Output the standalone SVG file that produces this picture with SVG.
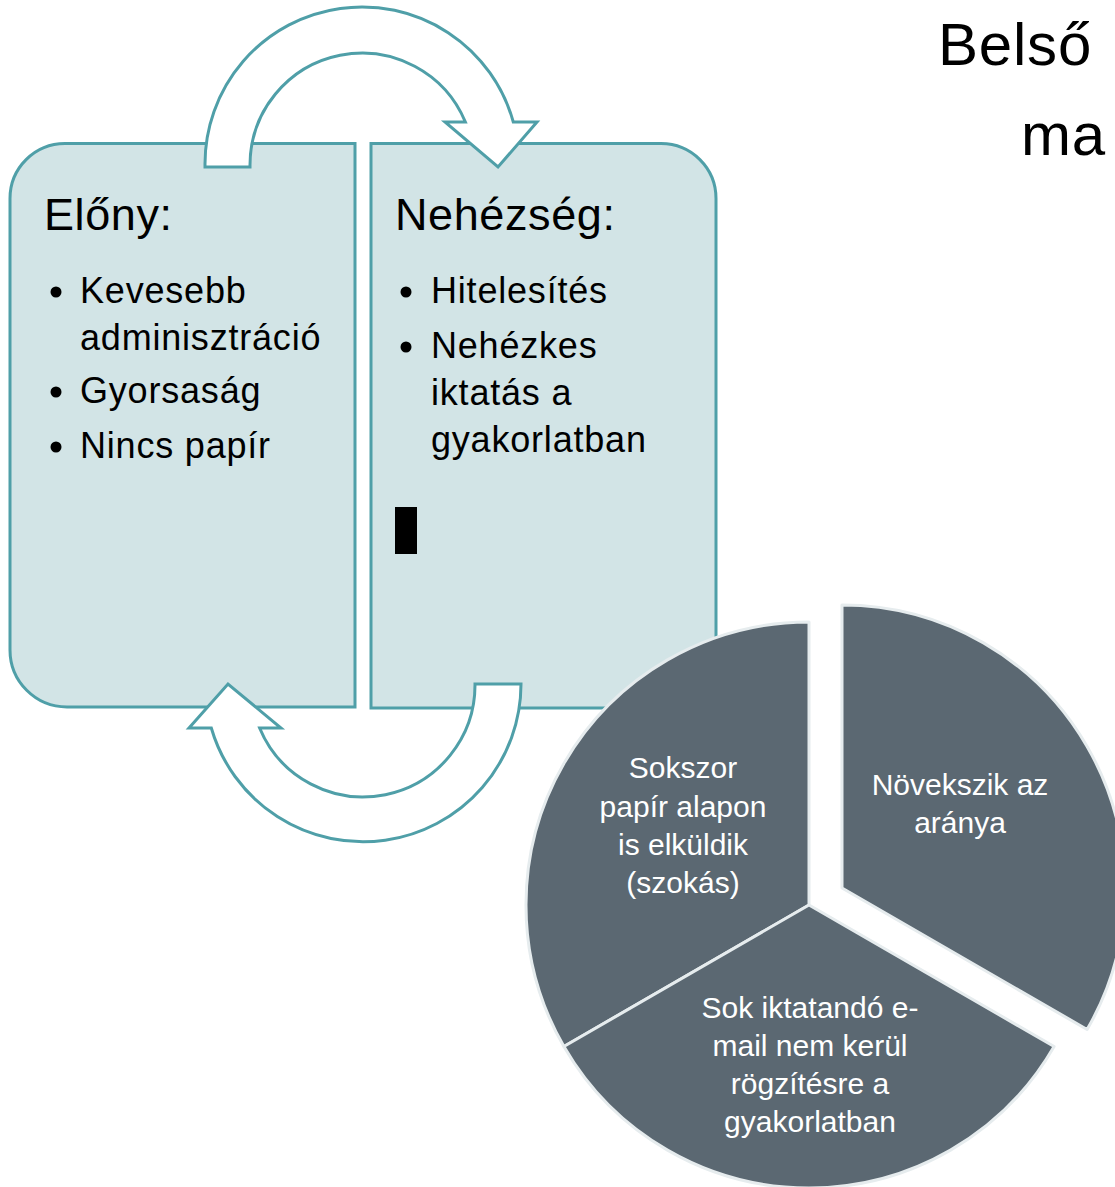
<svg xmlns="http://www.w3.org/2000/svg" width="1115" height="1187" viewBox="0 0 1115 1187">
  <style>
    .box { fill: #d2e4e6; stroke: #4f9fa8; stroke-width: 3; }
    .arrow { fill: #ffffff; stroke: #4f9fa8; stroke-width: 3; stroke-linejoin: miter; }
    .head { font-family: "Liberation Sans", Arial, sans-serif; font-size: 45px; letter-spacing: 0.6px; fill: #000000; }
    .item { font-family: "Liberation Sans", Arial, sans-serif; font-size: 36px; letter-spacing: 0.8px; fill: #000000; }
    .title { font-family: "Liberation Sans", Arial, sans-serif; font-size: 60px; letter-spacing: 0.8px; fill: #000000; }
    .slice { fill: #5b6872; stroke: #e6ecee; stroke-width: 3; stroke-linejoin: round; }
    .pie { font-family: "Liberation Sans", Arial, sans-serif; font-size: 30px; fill: #ffffff; text-anchor: middle; }
    .dot { fill: #000000; }
  </style>
  <rect x="0" y="0" width="1115" height="1187" fill="#ffffff"/>

  <g id="title">
    <text class="title" x="938" y="65">Belső</text>
    <text class="title" x="1021" y="155">ma</text>
  </g>

  <g id="node-elony">
    <path class="box" d="M65,143.5 L355,143.5 L355,707 L67,707 A57,57 0 0 1 10,650 L10,198.5 A55,55 0 0 1 65,143.5 Z"/>
    <text class="head" x="44" y="230">Előny:</text>
    <circle class="dot" cx="56" cy="292" r="5.5"/>
    <text class="item" x="80" y="303">Kevesebb</text>
    <text class="item" x="80" y="350">adminisztráció</text>
    <circle class="dot" cx="56" cy="392" r="5.5"/>
    <text class="item" x="80" y="403">Gyorsaság</text>
    <circle class="dot" cx="56" cy="447" r="5.5"/>
    <text class="item" x="80" y="458">Nincs papír</text>
  </g>

  <g id="node-nehezseg">
    <path class="box" d="M371,143.5 L661,143.5 A55,55 0 0 1 716,198.5 L716,653 A55,55 0 0 1 661,708 L371,708 Z"/>
    <text class="head" x="395" y="230">Nehézség:</text>
    <circle class="dot" cx="406" cy="292" r="5.5"/>
    <text class="item" x="431" y="303">Hitelesítés</text>
    <circle class="dot" cx="406" cy="347" r="5.5"/>
    <text class="item" x="431" y="358">Nehézkes</text>
    <text class="item" x="431" y="405">iktatás a</text>
    <text class="item" x="431" y="452">gyakorlatban</text>
    <rect x="395" y="507" width="22" height="47" fill="#000000"/>
  </g>

  <g id="connectors">
    <path class="arrow" d="M205,167 L205,165 A157,157 0 0 1 513.3,122 L537,122 L498,167 L445,122 L465.4,122 A112,112 0 0 0 250,165 L250,167 Z"/>
    <path class="arrow" d="M521,684 A158,158 0 0 1 211.3,728 L189,728 L228,684 L281,728 L259.6,728 A112,112 0 0 0 475,684 Z"/>
  </g>

  <g id="node-sokszor">
    <path class="slice" d="M809,905 L809,622 A283,283 0 0 0 563.9,1046.5 Z"/>
    <text class="pie" x="683" y="778">Sokszor</text>
    <text class="pie" x="683" y="817">papír alapon</text>
    <text class="pie" x="683" y="855">is elküldik</text>
    <text class="pie" x="683" y="893">(szokás)</text>
  </g>

  <g id="node-sok-iktatando">
    <path class="slice" d="M809,905 L563.9,1046.5 A283,283 0 0 0 1054.1,1046.5 Z"/>
    <text class="pie" x="810" y="1018">Sok iktatandó e-</text>
    <text class="pie" x="810" y="1056">mail nem kerül</text>
    <text class="pie" x="810" y="1094">rögzítésre a</text>
    <text class="pie" x="810" y="1132">gyakorlatban</text>
  </g>

  <g id="node-novekszik">
    <path class="slice" d="M842,888 L842,605 A283,283 0 0 1 1087.1,1029.5 Z"/>
    <text class="pie" x="960" y="795">Növekszik az</text>
    <text class="pie" x="960" y="833">aránya</text>
  </g>
</svg>
